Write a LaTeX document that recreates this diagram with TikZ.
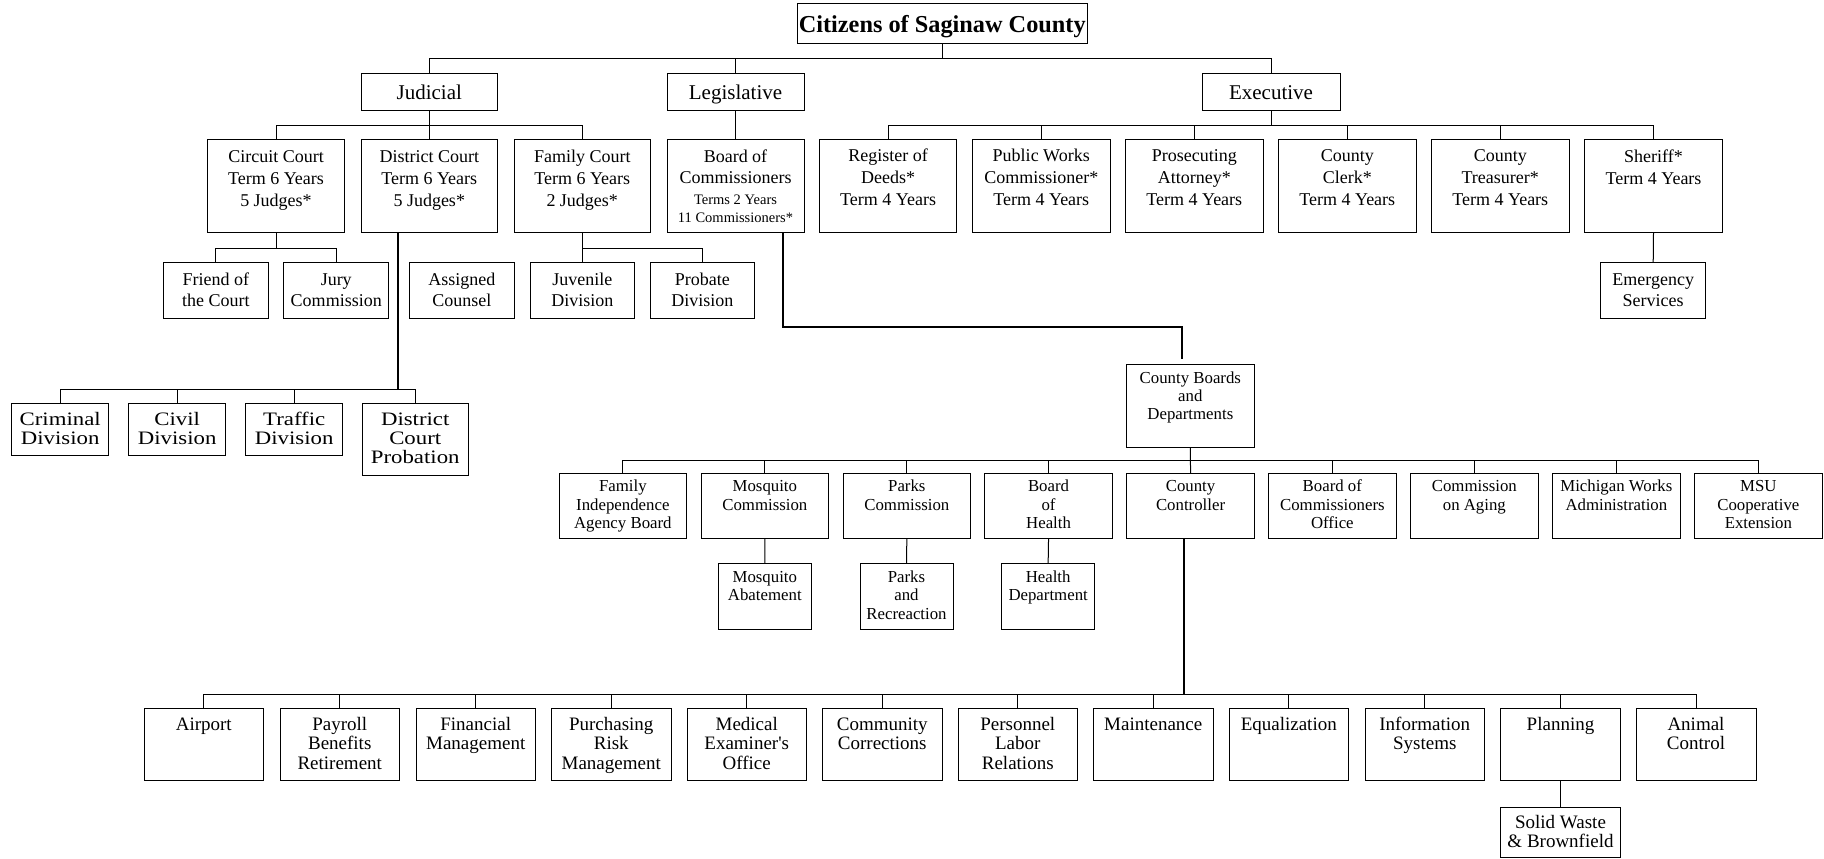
\documentclass[tikz,border=0pt]{standalone}
\usepackage{fontspec}
\setmainfont{Liberation Serif}
\newfontfamily\widefont[FakeStretch=1.2]{Liberation Serif}
\newcommand\fCit{\fontsize{24.3}{28}\selectfont\bfseries}
\newcommand\fL{\fontsize{21}{24}\selectfont}
\newcommand\fM{\fontsize{18}{21.7}\selectfont}
\newcommand\fN{\fontsize{18}{21.5}\selectfont}
\newcommand\fS{\fontsize{14.5}{18.7}\selectfont}
\newcommand\fD{\fontsize{16.8}{18.2}\selectfont}
\newcommand\fB{\fontsize{19}{19.4}\selectfont}
\newcommand\fW{\widefont\fontsize{19}{19}\selectfont}
\tikzset{
  orgbox/.style={draw, rectangle, line width=1pt, inner sep=0pt, outer sep=0pt},
  orgtxt/.style={anchor=base, inner sep=0pt, outer sep=0pt},
  conn/.style={line width=1pt},
  thickconn/.style={line width=2pt}
}
% name, left, top, right, bottom, baseline offset, font, text
\newcommand\bx[8]{%
  \node[orgbox, minimum width={(#4-#2)*1pt}, minimum height={(#5-#3)*1pt}] (#1) at ({(#2+#4)/2},{(#3+#5)/2}) {};
  \node[orgtxt, font=#7] (#1-t) at ({(#2+#4)/2},{#3+#6}) {\begin{tabular}[t]{@{}c@{}}#8\end{tabular}};}
\begin{document}
\begin{tikzpicture}[x=1pt, y=-1pt]
\useasboundingbox (0,0) rectangle (1824,859);
% top
\bx{cit}{797}{4}{1087.5}{44}{28.3}{\fCit}{Citizens of Saginaw County}
\bx{jud}{361}{73.5}{497.5}{110.3}{25.8}{\fL}{Judicial}
\bx{leg}{667}{73.5}{804}{110.3}{25.8}{\fL}{Legislative}
\bx{exe}{1202}{73.5}{1340}{110.3}{25.8}{\fL}{Executive}
% level 2
\bx{cc}{207.5}{139.3}{344.5}{232.7}{23.4}{\fM}{Circuit Court\\Term 6 Years\\5 Judges*}
\bx{dc}{361}{139.3}{497.5}{232.7}{23.4}{\fM}{District Court\\Term 6 Years\\5 Judges*}
\bx{fc}{514}{139.3}{650.5}{232.7}{23.4}{\fM}{Family Court\\Term 6 Years\\2 Judges*}
\bx{boc}{667}{139.3}{804}{232.7}{22.7}{\fM}{Board of\\Commissioners}
\node[orgtxt, font=\fS] (boc-s) at ({(667+804)/2},204) {\begin{tabular}[t]{@{}c@{}}Terms 2 Years\\11 Commissioners*\end{tabular}};
\bx{rod}{819.5}{139.3}{956.7}{232.7}{22.4}{\fM}{Register of\\Deeds*\\Term 4 Years}
\bx{pwc}{972.5}{139.3}{1110}{232.7}{22.4}{\fM}{Public Works\\Commissioner*\\Term 4 Years}
\bx{pa}{1125.5}{139.3}{1263}{232.7}{22.4}{\fM}{Prosecuting\\Attorney*\\Term 4 Years}
\bx{cclk}{1278.5}{139.3}{1416}{232.7}{22.4}{\fM}{County\\Clerk*\\Term 4 Years}
\bx{ctr}{1431.5}{139.3}{1569}{232.7}{22.4}{\fM}{County\\Treasurer*\\Term 4 Years}
\bx{sh}{1584.7}{139.3}{1722.3}{232.7}{23}{\fM}{Sheriff*\\Term 4 Years}
% level 3
\bx{fot}{163.5}{262.5}{268.2}{318.3}{22.8}{\fN}{Friend of\\the Court}
\bx{jc}{283.9}{262.5}{388.6}{318.3}{22.8}{\fN}{Jury\\Commission}
\bx{ac}{409.5}{262.5}{514.3}{318.3}{22.8}{\fN}{Assigned\\Counsel}
\bx{jd}{530}{262.5}{634.7}{318.3}{22.8}{\fN}{Juvenile\\Division}
\bx{pd}{650.4}{262.5}{754.5}{318.3}{22.8}{\fN}{Probate\\Division}
\bx{es}{1600.7}{262.5}{1705.7}{318.3}{22.8}{\fN}{Emergency\\Services}
% district court divisions
\bx{crim}{11.7}{403}{108.7}{455}{22}{\fW}{Criminal\\Division}
\bx{civ}{128.7}{403}{225.7}{455}{22}{\fW}{Civil\\Division}
\bx{traf}{245.7}{403}{342.7}{455}{22}{\fW}{Traffic\\Division}
\bx{dcp}{362.5}{403}{468}{475}{22}{\fW}{District\\Court\\Probation}
% county boards
\bx{cbd}{1126.7}{364}{1254}{447.7}{19.3}{\fD}{County Boards\\and\\Departments}
\bx{fia}{559}{473.3}{686.7}{538.3}{18.6}{\fD}{Family\\Independence\\Agency Board}
\bx{mc}{701}{473.3}{828.7}{538.3}{18.6}{\fD}{Mosquito\\Commission}
\bx{pc}{843}{473.3}{970.7}{538.3}{18.6}{\fD}{Parks\\Commission}
\bx{boh}{984.7}{473.3}{1112.4}{538.3}{18.6}{\fD}{Board\\of\\Health}
\bx{ccon}{1126.7}{473.3}{1254.4}{538.3}{18.6}{\fD}{County\\Controller}
\bx{bco}{1268.5}{473.3}{1396.2}{538.3}{18.6}{\fD}{Board of\\Commissioners\\Office}
\bx{coa}{1410.5}{473.3}{1538.2}{538.3}{18.6}{\fD}{Commission\\on Aging}
\bx{mwa}{1552.5}{473.3}{1680.2}{538.3}{18.6}{\fD}{Michigan Works\\Administration}
\bx{msu}{1694.5}{473.3}{1822.2}{538.3}{18.6}{\fD}{MSU\\Cooperative\\Extension}
\bx{ma}{718.3}{563.3}{811.3}{629.5}{19.4}{\fD}{Mosquito\\Abatement}
\bx{pr}{860}{563.3}{953}{629.5}{19.4}{\fD}{Parks\\and\\Recreaction}
\bx{hd}{1001.6}{563.3}{1094.7}{629.5}{19.4}{\fD}{Health\\Department}
% controller departments
\bx{air}{144}{708.3}{263.5}{780}{22.2}{\fB}{Airport}
\bx{pay}{280}{708.3}{399.5}{780}{22.2}{\fB}{Payroll\\Benefits\\Retirement}
\bx{fin}{416}{708.3}{535.5}{780}{22.2}{\fB}{Financial\\Management}
\bx{pur}{551.5}{708.3}{671}{780}{22.2}{\fB}{Purchasing\\Risk\\Management}
\bx{med}{687}{708.3}{806.5}{780}{22.2}{\fB}{Medical\\Examiner\textquotesingle s\\Office}
\bx{com}{822.6}{708.3}{942}{780}{22.2}{\fB}{Community\\Corrections}
\bx{per}{958}{708.3}{1077.5}{780}{22.2}{\fB}{Personnel\\Labor\\Relations}
\bx{mnt}{1093.5}{708.3}{1213}{780}{22.2}{\fB}{Maintenance}
\bx{equ}{1229}{708.3}{1348.5}{780}{22.2}{\fB}{Equalization}
\bx{inf}{1365}{708.3}{1484.5}{780}{22.2}{\fB}{Information\\Systems}
\bx{pla}{1500.7}{708.3}{1620.3}{780}{22.2}{\fB}{Planning}
\bx{ani}{1636}{708.3}{1756}{780}{22.2}{\fB}{Animal\\Control}
\bx{sw}{1500.7}{807.3}{1620.3}{857}{21}{\fB}{Solid Waste\\\& Brownfield}
% connectors
\coordinate (b0) at (0,59);
\draw[conn] (cit.south) -- (cit.south |- b0);
\draw[conn] (jud.north) |- (exe.north |- b0) -- (exe.north);
\draw[conn] (leg.north) -- (leg.north |- b0);
\coordinate (b1) at (0,125);
\draw[conn] (jud.south) -- (jud.south |- b1);
\draw[conn] (cc.north) |- (fc.north |- b1) -- (fc.north);
\draw[conn] (dc.north) -- (dc.north |- b1);
\draw[conn] (leg.south) -- (boc.north);
\draw[conn] (exe.south) -- (exe.south |- b1);
\draw[conn] (rod.north) |- (sh.north |- b1) -- (sh.north);
\foreach \n in {pwc,pa,cclk,ctr} \draw[conn] (\n.north) -- (\n.north |- b1);
\coordinate (b2) at (0,248);
\draw[conn] (cc.south) -- (cc.south |- b2);
\draw[conn] (fot.north) |- (jc.north |- b2) -- (jc.north);
\draw[conn] (fc.south) -- (fc.south |- b2);
\draw[conn] (jd.north) |- (pd.north |- b2) -- (pd.north);
\draw[conn] (sh.south) -- (es.north);
% district court
\coordinate (dcb) at (398.3,389.5);
\draw[thickconn] (dc.south -| dcb) -- (dcb);
\draw[conn] (crim.north) |- (dcp.north |- dcb) -- (dcp.north);
\foreach \n in {civ,traf} \draw[conn] (\n.north) -- (\n.north |- dcb);
% board of commissioners to county boards
\coordinate (bk1) at (782.7,327);
\coordinate (bk2) at (1181.7,327);
\coordinate (bk3) at (1181.7,359);
\draw[thickconn] (boc.south -| bk1) -- (bk1) -- (bk2) -- (bk3);
\coordinate (b3) at (0,460.8);
\draw[conn] (cbd.south) -- (ccon.north);
\draw[conn] (fia.north) |- (msu.north |- b3) -- (msu.north);
\foreach \n in {mc,pc,boh,bco,coa,mwa} \draw[conn] (\n.north) -- (\n.north |- b3);
\draw[conn] (mc.south) -- (ma.north);
\draw[conn] (pc.south) -- (pr.north);
\draw[conn] (boh.south) -- (hd.north);
% controller
\coordinate (ccb) at (1183.5,694.3);
\draw[thickconn] (ccon.south -| ccb) -- (ccb);
\draw[conn] (air.north) |- (ani.north |- ccb) -- (ani.north);
\foreach \n in {pay,fin,pur,med,com,per,mnt,equ,inf,pla} \draw[conn] (\n.north) -- (\n.north |- ccb);
\draw[conn] (pla.south) -- (sw.north);
\end{tikzpicture}
\end{document}
